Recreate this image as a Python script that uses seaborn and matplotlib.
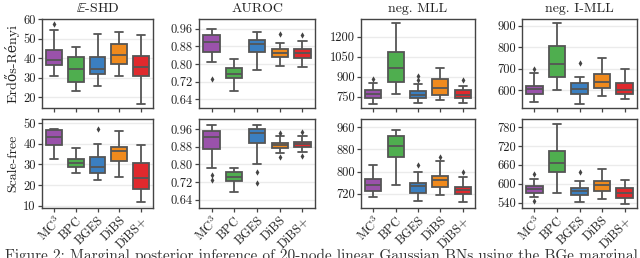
import numpy as np
import pandas as pd
import matplotlib
matplotlib.use("Agg")
import matplotlib.pyplot as plt
import seaborn as sns
from matplotlib.ticker import FormatStrFormatter

sns.set_theme(style="white")
plt.rcParams['font.family'] = ['cmr10', 'DejaVu Serif']
plt.rcParams['mathtext.fontset'] = 'cm'
plt.rcParams['axes.formatter.use_mathtext'] = True

methods = ["MC$^3$", "BPC", "BGES", "DiBS", "DiBS+"]
colors = ["#9a52ab", "#4fae4f", "#3b7fc0", "#f08a1d", "#e0292d"]
metrics = [r"$\mathbb{E}$-SHD", "AUROC", "neg. MLL", "neg. I-MLL"]
rows = ["Erdős-Rényi", "Scale-free"]

# five-number summaries per method: (whisker low, Q1, median, Q3, whisker high)
shd_er = [(31.0, 36.3, 38.9, 44.4, 54.7), (23.1, 27.8, 34.3, 40.6, 45.8),
          (25.9, 31.7, 34.6, 40.6, 52.6), (30.7, 37.2, 41.8, 47.5, 53.7),
          (16.6, 30.7, 35.5, 41.1, 52.0)]
shd_er_fl = [[57.8], [], [], [], []]
shd_sf = [(32.5, 39.5, 43.2, 46.8, 47.0), (26.0, 28.9, 30.9, 32.5, 37.9),
          (22.5, 25.7, 28.9, 33.8, 39.8), (24.1, 31.9, 36.6, 38.3, 46.3),
          (11.9, 18.1, 23.3, 30.6, 39.5)]
shd_sf_fl = [[], [], [47.1], [], []]

auroc_er = [(0.808, 0.855, 0.899, 0.930, 0.960), (0.677, 0.738, 0.754, 0.782, 0.821),
            (0.773, 0.853, 0.890, 0.910, 0.946), (0.791, 0.833, 0.849, 0.870, 0.894),
            (0.785, 0.826, 0.852, 0.867, 0.907)]
auroc_er_fl = [[0.730], [], [], [0.937], [0.931]]
auroc_sf = [(0.786, 0.871, 0.927, 0.952, 0.980), (0.673, 0.723, 0.743, 0.764, 0.783),
            (0.802, 0.900, 0.942, 0.960, 0.980), (0.853, 0.874, 0.889, 0.900, 0.930),
            (0.858, 0.879, 0.894, 0.904, 0.930)]
auroc_sf_fl = [[0.753, 0.731], [], [0.764, 0.718], [0.945, 0.835], [0.950, 0.838]]

mll_er = [(697, 745, 775, 805, 857), (772, 862, 970, 1087, 1300),
          (705, 745, 767, 795, 850), (725, 767, 817, 885, 967),
          (705, 742, 767, 805, 830)]
mll_er_fl = [[887], [], [905, 875], [], [875]]
mll_sf = [(707, 731, 752, 774, 822), (750, 852, 894, 930, 950),
          (692, 722, 746, 758, 798), (716, 743, 770, 782, 839),
          (689, 720, 732, 744, 780)]
mll_sf_fl = [[], [], [822], [852], [800]]

imll_er = [(545, 580, 603, 619, 678), (600, 659, 720, 807, 911),
           (535, 581, 605, 631, 659), (572, 608, 639, 674, 748),
           (558, 581, 600, 634, 696)]
imll_er_fl = [[698], [], [727], [], []]
imll_sf = [(557, 572, 582, 593, 615), (572, 639, 665, 705, 790),
           (543, 564, 577, 586, 609), (551, 578, 596, 609, 646),
           (536, 554, 572, 586, 612)]
imll_sf_fl = [[630, 545], [], [639], [], []]

yticks = {
    (0, 0): [20, 30, 40, 50, 60], (1, 0): [10, 20, 30, 40, 50],
    (0, 1): [0.64, 0.72, 0.80, 0.88, 0.96], (1, 1): [0.64, 0.72, 0.80, 0.88, 0.96],
    (0, 2): [750, 900, 1050, 1200], (1, 2): [720, 800, 880, 960],
    (0, 3): [600, 700, 800, 900], (1, 3): [540, 600, 660, 720, 780],
}
ylims = {
    (0, 0): (14.3, 60.2), (1, 0): (8.9, 52.0),
    (0, 1): (0.600, 1.005), (1, 1): (0.602, 1.007),
    (0, 2): (667, 1333), (1, 2): (668, 990),
    (0, 3): (516, 931), (1, 3): (523, 806),
}

panels = {
    (0, 0): (shd_er, shd_er_fl), (1, 0): (shd_sf, shd_sf_fl),
    (0, 1): (auroc_er, auroc_er_fl), (1, 1): (auroc_sf, auroc_sf_fl),
    (0, 2): (mll_er, mll_er_fl), (1, 2): (mll_sf, mll_sf_fl),
    (0, 3): (imll_er, imll_er_fl), (1, 3): (imll_sf, imll_sf_fl),
}


def expand(stats):
    lo, q1, med, q3, hi = stats
    return [lo] + [q1] * 20 + [med] * 21 + [q3] * 20 + [hi]


W, H = 640, 258
fig = plt.figure(figsize=(6.4, 2.58), dpi=100)
col_l = [42, 199, 361, 522]
col_r = [153, 315, 475, 637]
row_t = [19, 119]
row_b = [108, 208]
edge = "#555555"

for (r, c), (stats, fl) in panels.items():
    ax = fig.add_axes([col_l[c] / W, 1 - row_b[r] / H,
                       (col_r[c] - col_l[c]) / W, (row_b[r] - row_t[r]) / H])
    recs = []
    for m, s in zip(methods, stats):
        for v in expand(s):
            recs.append((m, v))
    df = pd.DataFrame(recs, columns=["method", "value"])
    frecs = [(m, v) for m, f in zip(methods, fl) for v in f]
    fdf = pd.DataFrame(frecs, columns=["method", "value"])
    ax.set_axisbelow(True)
    ax.yaxis.grid(True, color="#ebebeb", lw=1.0)
    sns.boxplot(data=df, x="method", y="value", hue="method", order=methods,
                hue_order=methods, palette=colors, whis=(0, 100), showfliers=False,
                saturation=1, width=0.72, linewidth=1.3, linecolor=edge,
                legend=False, ax=ax)
    if len(fdf):
        fdf["method"] = pd.Categorical(fdf["method"], categories=methods)
        sns.stripplot(data=fdf, x="method", y="value", order=methods, jitter=False,
                      marker="d", color="#444444", size=3.2, ax=ax, zorder=5)
    ax.set_xlim(-0.55, 4.55)
    ax.set_ylim(*ylims[(r, c)])
    ax.set_yticks(yticks[(r, c)])
    if c == 1:
        ax.yaxis.set_major_formatter(FormatStrFormatter("%.2f"))
    else:
        ax.yaxis.set_major_formatter(FormatStrFormatter("%d"))
    ax.set_xlabel("")
    ax.set_ylabel("")
    for sp in ax.spines.values():
        sp.set_color("#444444")
        sp.set_linewidth(1.0)
    ax.tick_params(axis="both", which="major", length=3, width=0.9, color="#444444",
                   labelsize=9, pad=1.5, left=True, bottom=True, labelcolor="#222222")
    ax.set_xticks(range(len(methods)))
    if r == 0:
        ax.set_xticklabels([])
        ax.set_title(metrics[c], fontsize=10, pad=5, color="#222222")
    else:
        ax.set_xticklabels(methods, rotation=45, ha="right", rotation_mode="anchor",
                           fontsize=9)
    if c == 0:
        ax.set_ylabel(rows[r], fontsize=10, labelpad=3, color="#222222")

fig.text(0.008, -0.02, "Figure 2: Marginal posterior inference of 20-node linear Gaussian BNs using the BGe marginal",
         fontsize=11, color="#333333", va="bottom", ha="left")

fig.savefig("out.png", dpi=100)
